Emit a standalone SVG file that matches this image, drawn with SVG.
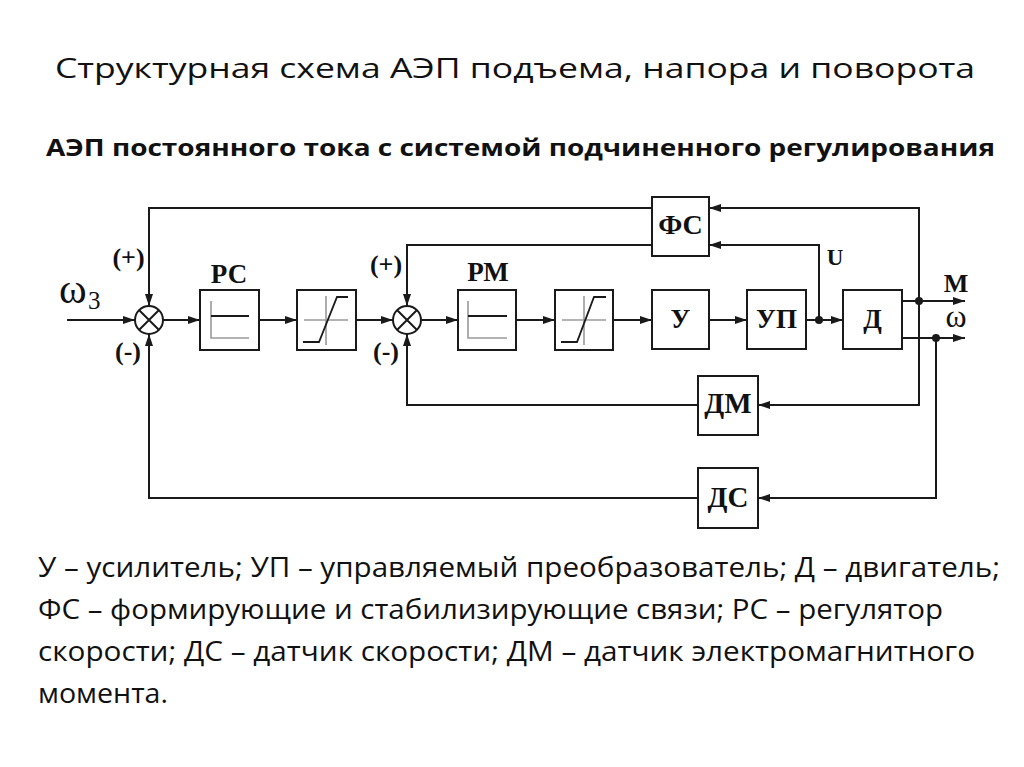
<svg xmlns="http://www.w3.org/2000/svg" width="1024" height="767" viewBox="0 0 1024 767">
<defs>
<marker id="arr" markerUnits="userSpaceOnUse" markerWidth="13" markerHeight="9" refX="12" refY="4.5" orient="auto" viewBox="0 0 13 9">
<path d="M0,0.5 L12,4.5 L0,8.5 z" fill="#1a1a1a"/>
</marker>
<style>
.box{fill:#fff;stroke:#1a1a1a;stroke-width:2}
.ln{fill:none;stroke:#1a1a1a;stroke-width:2}
.a{fill:none;stroke:#1a1a1a;stroke-width:2;marker-end:url(#arr)}
.g{fill:none;stroke:#9a9a9a;stroke-width:1.6}
.k{fill:none;stroke:#1a1a1a;stroke-width:1.8}
.dot{fill:#1a1a1a}
.lbl{font-family:"Liberation Serif","Times New Roman",serif;font-weight:bold;fill:#111;text-anchor:middle}
.txt{font-family:"Open Sans","Liberation Sans",sans-serif;fill:#111}
</style>
</defs>
<rect width="1024" height="767" fill="#fff"/>

<g id="title">
<text class="txt" x="55" y="78" font-size="28" textLength="920" lengthAdjust="spacingAndGlyphs">Структурная схема АЭП подъема, напора и поворота</text>
<text class="txt" x="46" y="156" font-size="24" font-weight="bold" textLength="949" lengthAdjust="spacingAndGlyphs">АЭП постоянного тока с системой подчиненного регулирования</text>
</g>

<g id="connectors">
<line class="a" x1="67" y1="320" x2="135" y2="320"/>
<line class="a" x1="163" y1="320" x2="200" y2="320"/>
<line class="a" x1="259" y1="320" x2="297" y2="320"/>
<line class="a" x1="356" y1="320" x2="393" y2="320"/>
<line class="a" x1="421" y1="320" x2="458" y2="320"/>
<line class="a" x1="516" y1="320" x2="555" y2="320"/>
<line class="a" x1="613" y1="320" x2="652" y2="320"/>
<line class="a" x1="709" y1="320" x2="747" y2="320"/>
<line class="a" x1="806" y1="320" x2="843" y2="320"/>
<polyline class="a" points="819,320 819,245 709,245"/>
<polyline class="a" points="652,208 149,208 149,306"/>
<polyline class="a" points="652,245 407,245 407,306"/>
<line class="a" x1="902" y1="301" x2="965" y2="301"/>
<line class="a" x1="902" y1="338" x2="965" y2="338"/>
<polyline class="a" points="919,301 919,208 709,208"/>
<polyline class="a" points="919,301 919,405 758,405"/>
<polyline class="a" points="936,338 936,498 758,498"/>
<polyline class="a" points="698,405 407,405 407,334"/>
<polyline class="a" points="698,498 149,498 149,334"/>
<circle class="dot" cx="819" cy="320" r="4"/>
<circle class="dot" cx="919" cy="301" r="4"/>
<circle class="dot" cx="936" cy="338" r="4"/>
</g>

<g id="sum1">
<circle class="box" cx="149" cy="320" r="14"/>
<path class="ln" d="M139,310 L159,330 M159,310 L139,330"/>
</g>
<g id="sum2">
<circle class="box" cx="407" cy="320" r="14"/>
<path class="ln" d="M397,310 L417,330 M417,310 L397,330"/>
</g>

<g id="PC">
<rect class="box" x="200" y="290" width="59" height="60"/>
<path class="g" d="M211,301 V338 H249"/>
<path class="k" d="M211,316 H249"/>
<text class="lbl" x="229" y="283" font-size="27">РС</text>
</g>
<g id="sat1">
<rect class="box" x="297" y="290" width="59" height="60"/>
<path class="g" d="M304,320 H348 M326,296 V345"/>
<path class="k" d="M303,342 H319 L337,297 H348"/>
</g>
<g id="PM">
<rect class="box" x="458" y="290" width="58" height="60"/>
<path class="g" d="M468,301 V338 H507"/>
<path class="k" d="M468,316 H507"/>
<text class="lbl" x="488" y="281" font-size="27">РМ</text>
</g>
<g id="sat2">
<rect class="box" x="555" y="290" width="58" height="60"/>
<path class="g" d="M562,320 H606 M584,296 V345"/>
<path class="k" d="M561,342 H577 L594,297 H606"/>
</g>
<g id="U">
<rect class="box" x="652" y="290" width="57" height="59"/>
<text class="lbl" x="680.5" y="328" font-size="27">У</text>
</g>
<g id="UP">
<rect class="box" x="747" y="290" width="59" height="59"/>
<text class="lbl" x="776.5" y="328" font-size="27">УП</text>
</g>
<g id="D">
<rect class="box" x="843" y="290" width="59" height="59"/>
<text class="lbl" x="872.5" y="328" font-size="27">Д</text>
</g>
<g id="FS">
<rect class="box" x="652" y="197" width="57" height="59"/>
<text class="lbl" x="680.5" y="234" font-size="28">ФС</text>
</g>
<g id="DM">
<rect class="box" x="698" y="376" width="60" height="59"/>
<text class="lbl" x="728" y="413" font-size="29">ДМ</text>
</g>
<g id="DS">
<rect class="box" x="698" y="468" width="60" height="60"/>
<text class="lbl" x="728" y="507" font-size="29">ДС</text>
</g>

<g id="labels">
<text x="59" y="303" font-family="Liberation Serif,serif" font-size="42" fill="#111">ω</text>
<text x="88" y="309" font-family="Liberation Serif,serif" font-size="25" fill="#111">3</text>
<text class="lbl" x="128.5" y="266" font-size="26">(+)</text>
<text class="lbl" x="128" y="360" font-size="26">(-)</text>
<text class="lbl" x="386" y="273" font-size="26">(+)</text>
<text class="lbl" x="386" y="360" font-size="26">(-)</text>
<text class="lbl" x="835" y="265" font-size="23">U</text>
<text class="lbl" x="956" y="292" font-size="26">M</text>
<text x="956" y="327" font-family="Liberation Serif,serif" font-size="32" fill="#111" text-anchor="middle">ω</text>
</g>

<g id="legend">
<text class="txt" x="38" y="577" font-size="27" textLength="962" lengthAdjust="spacingAndGlyphs">У – усилитель; УП – управляемый преобразователь; Д – двигатель;</text>
<text class="txt" x="38" y="619" font-size="27" textLength="905" lengthAdjust="spacingAndGlyphs">ФС – формирующие и стабилизирующие связи; РС – регулятор</text>
<text class="txt" x="38" y="661" font-size="27" textLength="937" lengthAdjust="spacingAndGlyphs">скорости; ДС – датчик скорости; ДМ – датчик электромагнитного</text>
<text class="txt" x="38" y="703" font-size="27" textLength="130" lengthAdjust="spacingAndGlyphs">момента.</text>
</g>
</svg>
